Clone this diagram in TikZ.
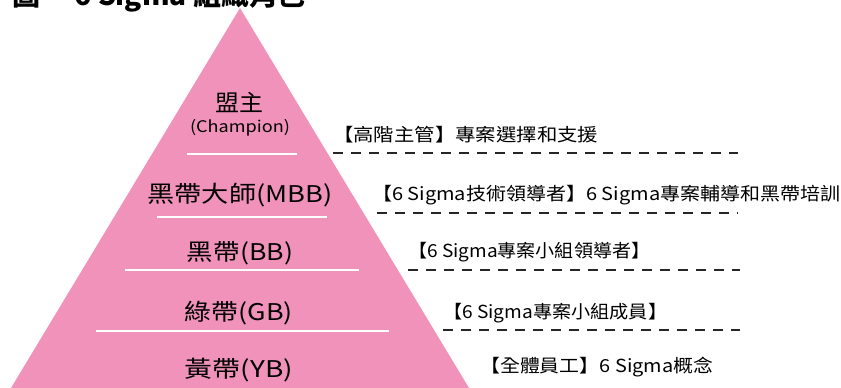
\documentclass[tikz,border=0pt]{standalone}
\usepackage{fontspec}
\usepackage{graphicx}
\setmainfont{Noto Sans CJK TC}
\definecolor{pyrpink}{RGB}{240,146,186}
\newcommand\fitw[2]{\resizebox{#1}{\height}{#2}}
\tikzset{
  tri/.style={inner sep=0pt, font=\fontsize{23}{23}\selectfont},
  trismall/.style={inner sep=0pt, font=\fontsize{16}{16}\selectfont},
  lab/.style={inner sep=0pt, anchor=west, font=\fontsize{18}{18}\selectfont},
  sepline/.style={white, line width=1.5pt},
  guide/.style={black!85, line width=1.3pt, dash pattern=on 10pt off 8pt},
  titletext/.style={inner sep=0pt, anchor=base west, font=\fontsize{28}{28}\selectfont\bfseries}
}
\begin{document}
\begin{tikzpicture}[x=1pt,y=1pt]
\useasboundingbox (0,0) rectangle (841,388);
\clip (0,0) rectangle (841,388);
% title (only its lower edge is visible)
\node[titletext] (title) at (12,382) {圖一 6 Sigma 組織角色};
% pyramid
\fill[pyrpink] (240,380) -- (11,0) -- (469,0) -- cycle;
% separators inside pyramid
\coordinate (s1a) at (187,234); \coordinate (s1b) at (297,234);
\coordinate (s2a) at (157,171); \coordinate (s2b) at (327,171);
\coordinate (s3a) at (125,118); \coordinate (s3b) at (359,118);
\coordinate (s4a) at (96,57);   \coordinate (s4b) at (389,57);
\draw[sepline] (s1a) -- (s1b);
\draw[sepline] (s2a) -- (s2b);
\draw[sepline] (s3a) -- (s3b);
\draw[sepline] (s4a) -- (s4b);
% pyramid labels
\node[tri] (champ) at (239,286) {\fitw{48pt}{盟主}};
\node[trismall] (champen) at (240,260) {\fitw{100pt}{(Champion)}};
\node[tri] (mbb) at (240,193) {\fitw{185pt}{黑帶大師(MBB)}};
\node[tri] (bb) at (240,135) {\fitw{106pt}{黑帶(BB)}};
\node[tri] (gb) at (239,75) {\fitw{108pt}{綠帶(GB)}};
\node[tri] (yb) at (239,18) {\fitw{108pt}{黃帶(YB)}};
% right-hand descriptions
\node[lab] (t1) at (333,253) {\fitw{265pt}{【高階主管】專案選擇和支援}};
\node[lab] (t2) at (372,193) {\fitw{468pt}{【6 Sigma技術領導者】6 Sigma專案輔導和黑帶培訓}};
\node[lab] (t3) at (408,136) {\fitw{242pt}{【6 Sigma專案小組領導者】}};
\node[lab] (t4) at (443,75) {\fitw{224pt}{【6 Sigma專案小組成員】}};
\node[lab] (t5) at (480,21) {\fitw{233pt}{【全體員工】6 Sigma概念}};
% dashed guide lines
\coordinate (d1a) at (333,235); \coordinate (d1b) at (738,235);
\coordinate (d2a) at (377,175); \coordinate (d2b) at (738,175);
\coordinate (d3a) at (408,118); \coordinate (d3b) at (740,118);
\coordinate (d4a) at (443,58);  \coordinate (d4b) at (740,58);
\draw[guide] (d1a) -- (d1b);
\draw[guide] (d2a) -- (d2b);
\draw[guide] (d3a) -- (d3b);
\draw[guide] (d4a) -- (d4b);
\end{tikzpicture}
\end{document}
